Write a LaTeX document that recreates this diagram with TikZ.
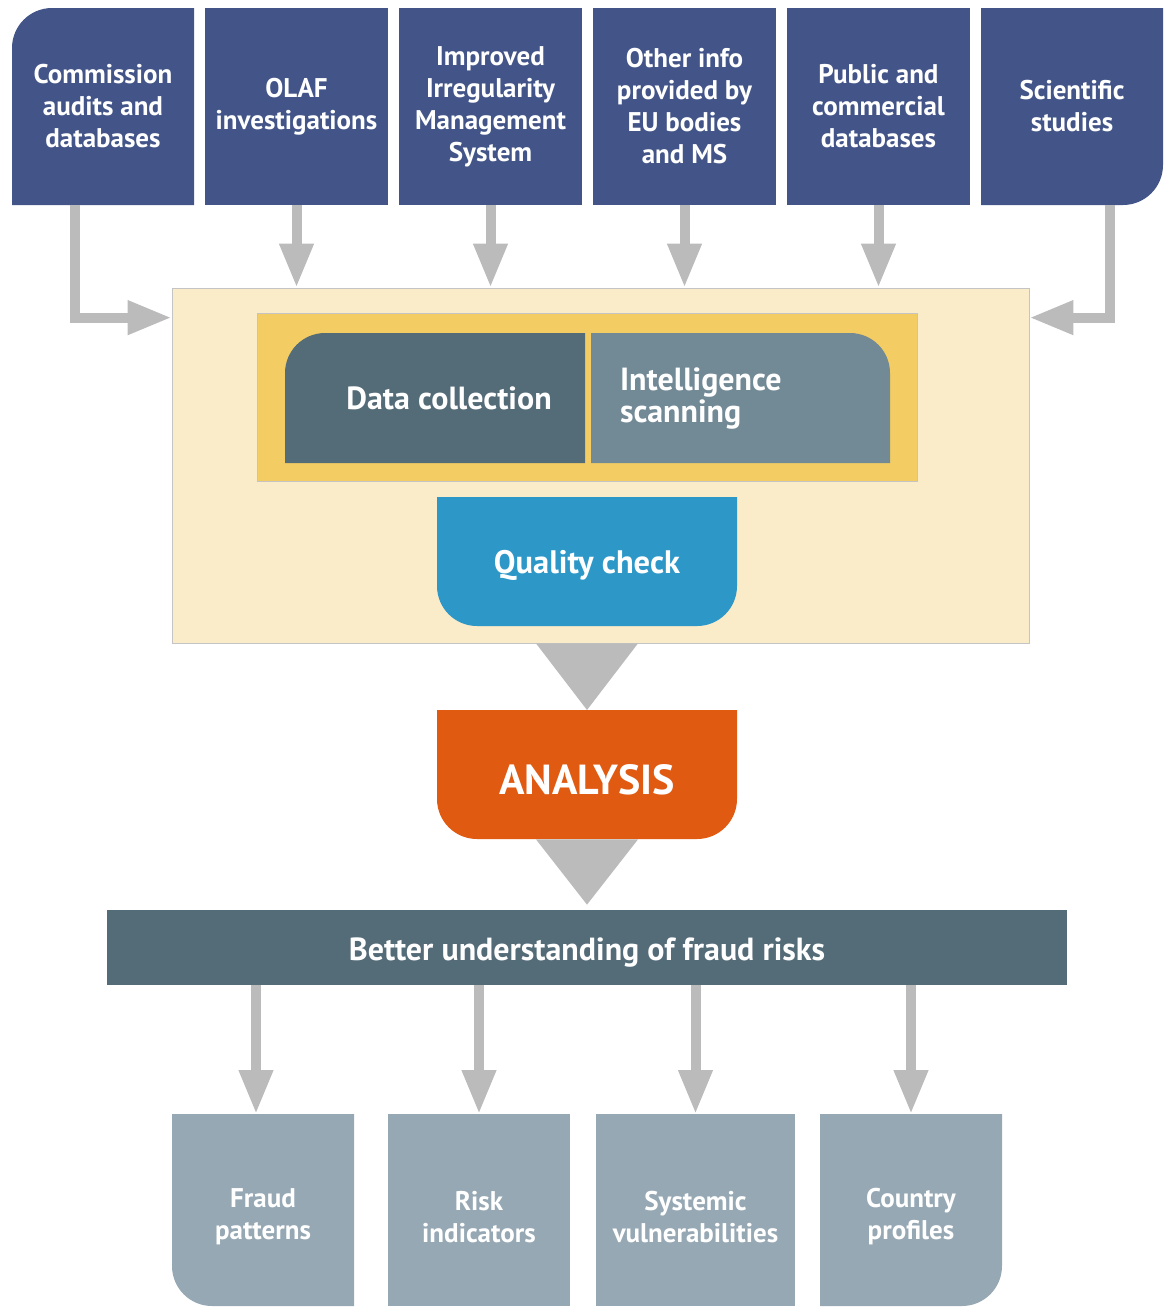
\documentclass[tikz,border=0pt]{standalone}
\usepackage{fontspec}
\setmainfont{PT Sans}
\usetikzlibrary{arrows.meta}

\definecolor{srcblue}{HTML}{435588}
\definecolor{creamfill}{HTML}{FAEBC9}
\definecolor{yellowfill}{HTML}{F3CD63}
\definecolor{darkslate}{HTML}{546B78}
\definecolor{midslate}{HTML}{728996}
\definecolor{qualblue}{HTML}{2D98C8}
\definecolor{analorange}{HTML}{E05A12}
\definecolor{lightslate}{HTML}{96A8B4}
\definecolor{arrowgray}{HTML}{BBBBBB}
\definecolor{framegray}{HTML}{C4C4C4}

\tikzset{every picture/.style={line width=0.75pt}}
\tikzset{
  boxtext/.style={inner sep=0pt, text=white, font=\bfseries\fontsize{27}{32}\selectfont, align=center},
  srcbox/.style={boxtext, minimum width=183, minimum height=197},
  outbox/.style={boxtext, minimum width=182, minimum height=192},
  flow/.style={draw=arrowgray, line width=10pt, -{Triangle[length=44pt,width=32pt]}},
}

\begin{document}
\begin{tikzpicture}[x=1pt,y=1pt,yscale=-1,xscale=1]
\useasboundingbox (0,0) rectangle (1164,1307);

% Source boxes
\fill[srcblue] (12,205) -- (12,48) arc[start angle=180,end angle=270,radius=40] -- (194,8) -- (194,205) -- cycle;
\fill[srcblue] (205,8) rectangle (388,205);
\fill[srcblue] (399,8) rectangle (582,205);
\fill[srcblue] (593,8) rectangle (776,205);
\fill[srcblue] (787,8) rectangle (970,205);
\fill[srcblue] (981,8) -- (1163,8) -- (1163,165) arc[start angle=0,end angle=90,radius=40] -- (981,205) -- cycle;
% Text Node
\node[srcbox] (commission) at (103,106.5) {Commission\\audits and\\databases};
\node[srcbox] (olaf) at (296.5,106.5) {OLAF\\investigations};
\node[srcbox] (irms) at (490.5,106.5) {Improved\\Irregularity\\Management\\System};
\node[srcbox] (otherinfo) at (684.5,106.5) {Other info\\provided by\\EU bodies\\and MS};
\node[srcbox] (publicdb) at (878.5,106.5) {Public and\\commercial\\databases};
\node[srcbox] (scientific) at (1072,106.5) {Scientific\\studies};

% Processing frame
\draw[framegray, fill=creamfill] (172,288) rectangle (1029,643);
\node[inner sep=0pt, minimum width=857, minimum height=355] (processing) at (600.5,465.5) {};
\draw[framegray, fill=yellowfill] (257,313) rectangle (917,481);

% Data collection / Intelligence scanning
\fill[darkslate] (285,463) -- (285,373) arc[start angle=180,end angle=270,radius=40] -- (585,333) -- (585,463) -- cycle;
\fill[midslate] (591,333) -- (850,333) arc[start angle=270,end angle=360,radius=40] -- (890,463) -- (591,463) -- cycle;
\node[boxtext, font=\bfseries\fontsize{32}{32}\selectfont] (collection) at (449,398) {Data collection};
\node[boxtext, font=\bfseries\fontsize{32}{32}\selectfont, text width=240, align=left] (scanning) at (740,399) {Intelligence\\scanning};

% Quality check
\fill[qualblue] (437,497) -- (737,497) -- (737,586) arc[start angle=0,end angle=90,radius=40] -- (477,626) arc[start angle=90,end angle=180,radius=40] -- cycle;
\node[boxtext, font=\bfseries\fontsize{32.5}{32}\selectfont, minimum width=300, minimum height=121] (quality) at (587,565.5) {Quality check};

% Analysis
\fill[analorange] (437,710) -- (737,710) -- (737,799) arc[start angle=0,end angle=90,radius=40] -- (477,839) arc[start angle=90,end angle=180,radius=40] -- cycle;
\node[boxtext, font=\bfseries\fontsize{42}{42}\selectfont, minimum width=300, minimum height=119] (analysis) at (587,779.5) {ANALYSIS};

% Better understanding
\fill[darkslate] (107,910) rectangle (1067,985);
\node[boxtext, font=\bfseries\fontsize{32}{32}\selectfont, minimum width=960, minimum height=65] (understanding) at (587,952.5) {Better understanding of fraud risks};

% Outcome boxes
\fill[lightslate] (172,1114) -- (354,1114) -- (354,1306) -- (212,1306) arc[start angle=90,end angle=180,radius=40] -- cycle;
\fill[lightslate] (388,1114) rectangle (570,1306);
\fill[lightslate] (596,1114) rectangle (795,1306);
\fill[lightslate] (820,1114) -- (1002,1114) -- (1002,1266) arc[start angle=0,end angle=90,radius=40] -- (820,1306) -- cycle;
% Text Node
\node[outbox] (fraud) at (263,1217) {Fraud\\patterns};
\node[outbox] (risk) at (479,1217) {Risk\\indicators};
\node[outbox, minimum width=199] (systemic) at (695.5,1217) {Systemic\\vulnerabilities};
\node[outbox] (country) at (911,1217) {Country\\profiles};

% Connection
\draw[flow] ([xshift=-28]commission.south) |- ([yshift=30]processing.north west);
\draw[flow] (olaf.south) -- (olaf.south |- processing.north);
\draw[flow] (irms.south) -- (irms.south |- processing.north);
\draw[flow] (otherinfo.south) -- (otherinfo.south |- processing.north);
\draw[flow] (publicdb.south) -- (publicdb.south |- processing.north);
\draw[flow] ([xshift=38]scientific.south) |- ([yshift=30]processing.north east);
% Connection
\fill[arrowgray] (analysis.north |- processing.south) ++(-51,0) -- ++(102,0) -- (587,710) -- cycle;
\fill[arrowgray] (analysis.south) ++(-51,0) -- ++(102,0) -- ([yshift=-15]understanding.north) -- cycle;
% Connection
\draw[flow] ([xshift=-7]fraud.north |- understanding.south) -- (256,1114);
\draw[flow] (risk.north |- understanding.south) -- (479,1114);
\draw[flow] (systemic.north |- understanding.south) -- (695.5,1114);
\draw[flow] (country.north |- understanding.south) -- (911,1114);

\end{tikzpicture}
\end{document}
